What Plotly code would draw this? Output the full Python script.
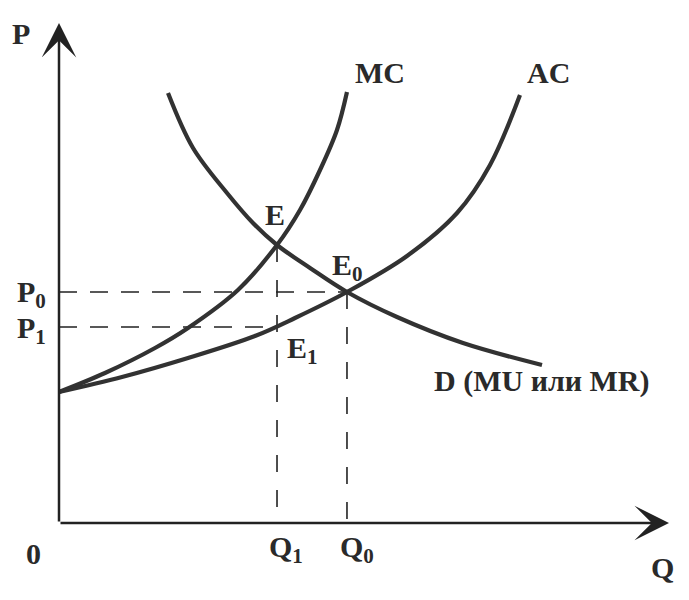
import plotly.graph_objects as go

# Curves (Q, P units)
mc_q = [0.000, 0.754, 1.574, 2.115, 2.934, 3.574, 3.951, 4.279, 4.557, 4.721]
mc_p = [2.62, 3.00, 3.50, 3.90, 4.66, 5.56, 6.26, 7.06, 7.86, 8.62]

ac_q = [0.000, 1.033, 2.115, 3.213, 3.869, 4.721, 5.705, 6.525, 7.066, 7.557]
ac_p = [2.62, 2.92, 3.30, 3.74, 4.10, 4.62, 5.34, 6.20, 7.16, 8.56]

d_q = [1.787, 2.197, 2.754, 3.180, 3.574, 4.115, 4.721, 5.541, 6.623, 7.918]
d_p = [8.60, 7.50, 6.60, 6.00, 5.56, 5.10, 4.62, 4.12, 3.60, 3.16]

# Key levels
q1, q0 = 3.574, 4.721
p1, p0 = 3.92, 4.62
pe = 5.56
axis_max = 10.0

curve_color = "#323232"
font_family = "Liberation Serif, Times New Roman, serif"

fig = go.Figure()

# dashed guide lines
dash_h = "18px,13px"
dash_v = "17px,18px"
guide = dict(color="#222", width=1.6)
fig.add_trace(go.Scatter(x=[0, q0], y=[p0, p0], mode="lines",
                         line=dict(guide, dash=dash_h), hoverinfo="skip"))
fig.add_trace(go.Scatter(x=[0, q1], y=[p1, p1], mode="lines",
                         line=dict(guide, dash=dash_h), hoverinfo="skip"))
fig.add_trace(go.Scatter(x=[q1, q1], y=[pe, 0], mode="lines",
                         line=dict(guide, dash=dash_v), hoverinfo="skip"))
fig.add_trace(go.Scatter(x=[q0, q0], y=[p0, 0], mode="lines",
                         line=dict(guide, dash=dash_v), hoverinfo="skip"))

for xs, ys in [(mc_q, mc_p), (ac_q, ac_p), (d_q, d_p)]:
    fig.add_trace(go.Scatter(x=xs, y=ys, mode="lines", line_shape="spline",
                             line=dict(color=curve_color, width=4.2, smoothing=1.0),
                             hoverinfo="skip"))

# axes with arrows
for (tx, ty) in [(0, axis_max), (axis_max, 0)]:
    fig.add_annotation(x=tx, y=ty, ax=0, ay=0, xref="x", yref="y", axref="x", ayref="y",
                       showarrow=True, arrowhead=3, arrowsize=2.3, arrowwidth=2.5,
                       arrowcolor="#222", text="")

lab_font = dict(family=font_family, size=30, color="#2a2a2a")

def label(x, y, text, xanchor="center", font=lab_font):
    fig.add_annotation(x=x, y=y, text="<b>" + text + "</b>", showarrow=False,
                       xanchor=xanchor, yanchor="middle", font=font)

label(-0.62, 9.80, "P")
label(5.26, 9.02, "MC")
label(8.02, 9.02, "AC")
label(3.54, 6.18, "E")
label(4.44, 5.12, "E<sub>0</sub>", xanchor="left")
label(3.70, 3.46, "E<sub>1</sub>", xanchor="left")
label(-0.18, 4.58, "P<sub>0</sub>", xanchor="right")
label(-0.18, 3.86, "P<sub>1</sub>", xanchor="right")
label(3.72, -0.52, "Q<sub>1</sub>")
label(4.88, -0.52, "Q<sub>0</sub>")
label(-0.41, -0.60, "0")
label(9.89, -0.88, "Q")
label(6.11, 2.84, "D (MU или MR)", xanchor="left",
      font=dict(family=font_family, size=30, color="#2a2a2a"))

fig.update_layout(
    width=689, height=600,
    margin=dict(l=0, r=0, t=0, b=0),
    paper_bgcolor="white", plot_bgcolor="white",
    showlegend=False,
    xaxis=dict(range=[-59 / 61, 630 / 61], visible=False, fixedrange=True),
    yaxis=dict(range=[-77 / 50, 523 / 50], visible=False, fixedrange=True),
)

fig.write_html("out.html", config={"displayModeBar": False},
               post_script="document.body.style.margin='0px';")
